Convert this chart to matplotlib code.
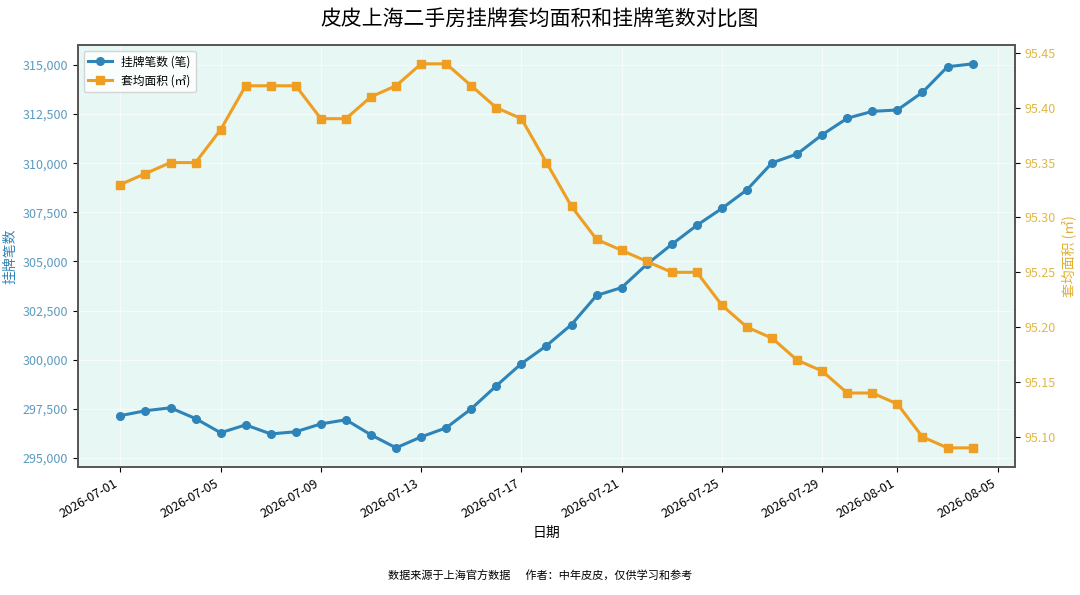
"""皮皮上海二手房挂牌套均面积和挂牌笔数对比图
"""
import matplotlib
matplotlib.use("Agg")
import matplotlib.pyplot as plt
import matplotlib.dates as mdates
import matplotlib.ticker as mticker
import pandas as pd

plt.rcParams["font.family"] = ["Noto Sans CJK SC", "DejaVu Sans"]
plt.rcParams["axes.unicode_minus"] = False

dates = pd.date_range("2026-07-01", "2026-08-04", freq="D")  # 日期
listings = [  # 挂牌笔数
    297150, 297400, 297550, 297000, 296280, 296680, 296220, 296330, 296730, 296940,
    296170, 295510, 296070, 296530, 297500, 298670, 299800, 300710, 301790, 303270,
    303670, 304850, 305870, 306840, 307700, 308650, 310020, 310470, 311450, 312290,
    312640, 312710, 313610, 314910, 315060,
]
avg_area = [  # 套均面积
    95.33, 95.34, 95.35, 95.35, 95.38, 95.42, 95.42, 95.42, 95.39, 95.39,
    95.41, 95.42, 95.44, 95.44, 95.42, 95.40, 95.39, 95.35, 95.31, 95.28,
    95.27, 95.26, 95.25, 95.25, 95.22, 95.20, 95.19, 95.17, 95.16, 95.14,
    95.14, 95.13, 95.10, 95.09, 95.09,
]

blue = "#2E84B8"
orange = "#EE9E22"

fig, ax1 = plt.subplots(figsize=(10.8, 5.95), dpi=100)
fig.subplots_adjust(left=0.072, right=0.940, top=0.925, bottom=0.215)
ax1.set_facecolor("#E6F7F4")

l1, = ax1.plot(dates, listings, color=blue, marker="o", markersize=5.5, linewidth=2.2,
               label="挂牌笔数 (笔)")
ax1.set_ylabel("挂牌笔数", color=blue, fontsize=10)
ax1.tick_params(axis="y", labelcolor="#5B9BC0", labelsize=9)
ax1.yaxis.set_major_formatter(mticker.FuncFormatter(lambda v, p: f"{v:,.0f}"))
ax1.set_xlabel("日期", fontsize=10)
ax1.grid(True, color="white", alpha=0.6, linewidth=1)

ax2 = ax1.twinx()
l2, = ax2.plot(dates, avg_area, color=orange, marker="s", markersize=5.5, linewidth=2.2,
               label="套均面积 (㎡)")
ax2.set_ylabel("套均面积 (㎡)", color="#E0B030", fontsize=10)
ax2.tick_params(axis="y", labelcolor="#E0B848", labelsize=9)
ax2.yaxis.set_major_formatter(mticker.FormatStrFormatter("%.2f"))

ax1.xaxis.set_major_locator(mdates.AutoDateLocator())
ax1.xaxis.set_major_formatter(mdates.DateFormatter("%Y-%m-%d"))
for lab in ax1.get_xticklabels():
    lab.set_rotation(30)
    lab.set_ha("right")
    lab.set_fontsize(9)

for ax in (ax1, ax2):
    for s in ax.spines.values():
        s.set_color("#555555")
        s.set_linewidth(1.2)

ax1.legend(handles=[l1, l2], loc="upper left", fontsize=8.5, framealpha=0.8)

fig.suptitle("皮皮上海二手房挂牌套均面积和挂牌笔数对比图", fontsize=15, y=0.985)
fig.text(0.5, 0.025, "数据来源于上海官方数据      作者：中年皮皮，仅供学习和参考",
         ha="center", fontsize=8)

fig.savefig("out.png", dpi=100)
